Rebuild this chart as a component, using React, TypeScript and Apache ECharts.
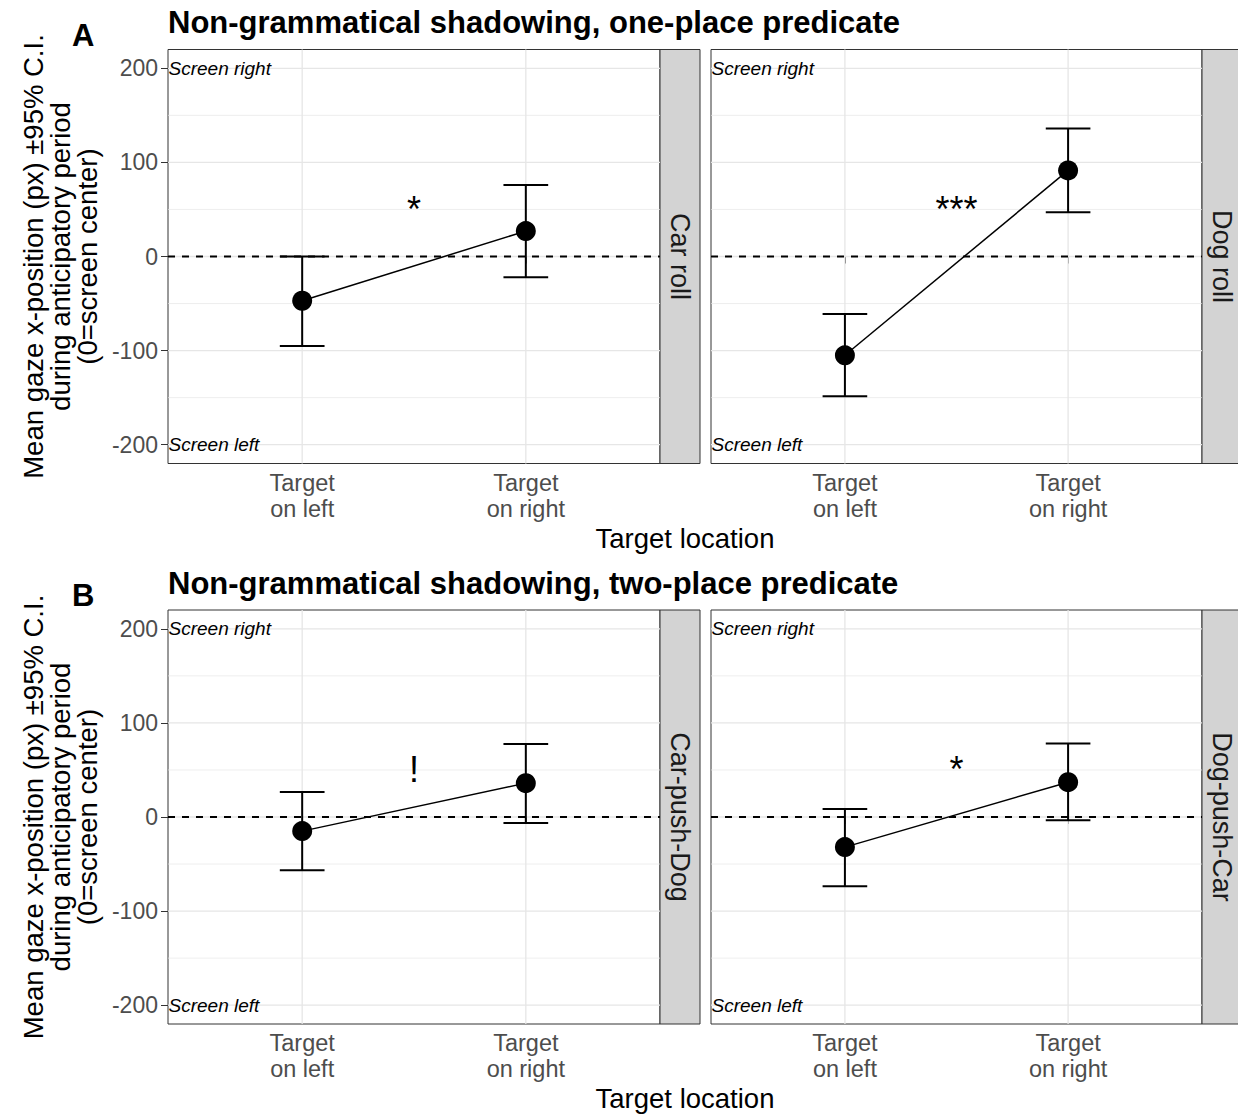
import React, { useEffect, useRef } from "react";
import * as echarts from "echarts";

// ---------- data ----------
const xCategories = ["Target\non left", "Target\non right"];
const panelTitles = [
  "Non-grammatical shadowing, one-place predicate",
  "Non-grammatical shadowing, two-place predicate",
];
const panelLetters = ["A", "B"];
const stripLabels = ["Car roll", "Dog roll", "Car-push-Dog", "Dog-push-Car"];
const meanValues = [
  [-47, 27],
  [-105, 91.5],
  [-15, 36],
  [-32, 37],
];
const lowerCI = [
  [-95, -22],
  [-148.5, 47],
  [-56.5, -6.5],
  [-73.5, -3.5],
];
const upperCI = [
  [0, 76],
  [-61, 136],
  [26.5, 77.5],
  [8.5, 78],
];
const sigLabels = ["*", "***", "!", "*"];
const sigX = 1.5;
const sigY = 50;
const yTicks = [-200, -100, 0, 100, 200];
const yMinorTicks = [-150, -50, 50, 150];
const xTicks = [1, 2];
const cornerLabels = ["Screen right", "Screen left"];
const cornerValues = [200, -200];
const yTitle = "Mean gaze x-position (px) ±95% C.I.\nduring anticipatory period\n(0=screen center)";
const xTitle = "Target location";

// ---------- layout ----------
const FONT = "'Liberation Sans', Arial, Helvetica, sans-serif";
const X_MIN = 0.4;
const X_MAX = 2.6;
const Y_MIN = -220;
const Y_MAX = 220;
const gridLeft = [168, 711];
const gridWidth = [492, 491];
const gridTop = [49.5, 610];
const gridHeight = 414;
const stripW = 40;
const rowOffset = gridTop[1] - gridTop[0];

export default function App() {
  const ref = useRef<HTMLDivElement>(null);

  useEffect(() => {
    if (!ref.current) return;
    const chart = echarts.init(ref.current, undefined, { renderer: "svg" });
    const panels = [0, 1, 2, 3].map((i) => ({ row: Math.floor(i / 2), col: i % 2 }));

    const grids = panels.map((p) => ({
      left: gridLeft[p.col],
      top: gridTop[p.row],
      width: gridWidth[p.col],
      height: gridHeight,
      show: true,
      borderColor: "#333333",
      borderWidth: 1,
      backgroundColor: "#ffffff",
      containLabel: false,
    }));

    const xAxes = panels.map((p, i) => ({
      type: "value",
      gridIndex: i,
      min: X_MIN,
      max: X_MAX,
      splitLine: { show: false },
      axisLine: { show: false },
      axisTick: {
        show: true,
        customValues: xTicks,
        length: 7,
        lineStyle: { color: "#333333", width: 1 },
      },
      axisLabel: {
        show: true,
        customValues: xTicks,
        formatter: (v: number) => xCategories[Math.round(v) - 1] ?? "",
        fontSize: 23.5,
        lineHeight: 26,
        color: "#4d4d4d",
        margin: 6,
        fontFamily: FONT,
      },
    }));

    const yAxes = panels.map((p, i) => ({
      type: "value",
      gridIndex: i,
      min: Y_MIN,
      max: Y_MAX,
      splitLine: { show: false },
      axisLine: { show: false },
      axisTick: {
        show: p.col === 0,
        customValues: yTicks,
        length: 7,
        lineStyle: { color: "#333333", width: 1 },
      },
      axisLabel: {
        show: p.col === 0,
        customValues: yTicks,
        fontSize: 23,
        color: "#4d4d4d",
        margin: 10,
        fontFamily: FONT,
      },
    }));

    const lineRender = (dash: number[] | null, color: string) => (params: any, api: any) => {
      const a = api.coord([api.value(0), api.value(1)]);
      const b = api.coord([api.value(2), api.value(3)]);
      return {
        type: "line",
        shape: { x1: a[0], y1: a[1], x2: b[0], y2: b[1] },
        style: { stroke: color, lineWidth: api.value(4), lineDash: dash || undefined },
        silent: true,
      };
    };

    const series: any[] = [];
    panels.forEach((p, i) => {
      const gridData = [
        ...yTicks.map((v) => [X_MIN, v, X_MAX, v, 1.3]),
        ...yMinorTicks.map((v) => [X_MIN, v, X_MAX, v, 0.7]),
        ...xTicks.map((v) => [v, Y_MIN, v, Y_MAX, 1.3]),
      ];
      series.push({
        type: "custom",
        xAxisIndex: i,
        yAxisIndex: i,
        data: gridData,
        encode: { x: [0, 2], y: [1, 3] },
        renderItem: lineRender(null, "#e6e6e6"),
        clip: false,
        silent: true,
        z: 1,
      });
      series.push({
        type: "custom",
        xAxisIndex: i,
        yAxisIndex: i,
        data: [[X_MIN, 0, X_MAX, 0, 1.8]],
        encode: { x: [0, 2], y: [1, 3] },
        renderItem: lineRender([7, 7], "#000000"),
        clip: false,
        silent: true,
        z: 2,
      });
      // error bars
      series.push({
        type: "custom",
        xAxisIndex: i,
        yAxisIndex: i,
        data: xTicks.map((x, k) => [x, lowerCI[i][k], upperCI[i][k]]),
        encode: { x: 0, y: [1, 2] },
        renderItem: (params: any, api: any) => {
          const x = api.value(0);
          const lo = api.coord([x, api.value(1)]);
          const hi = api.coord([x, api.value(2)]);
          const half = api.size([0.1, 0])[0];
          const st = { stroke: "#000000", lineWidth: 2 };
          return {
            type: "group",
            children: [
              { type: "line", shape: { x1: lo[0], y1: lo[1], x2: hi[0], y2: hi[1] }, style: st },
              { type: "line", shape: { x1: hi[0] - half, y1: hi[1], x2: hi[0] + half, y2: hi[1] }, style: st },
              { type: "line", shape: { x1: lo[0] - half, y1: lo[1], x2: lo[0] + half, y2: lo[1] }, style: st },
            ],
          };
        },
        z: 3,
      });
      const pts = xTicks.map((x, k) => [x, meanValues[i][k]]);
      series.push({
        type: "line",
        xAxisIndex: i,
        yAxisIndex: i,
        data: pts,
        symbol: "none",
        lineStyle: { color: "#000000", width: 1.5, opacity: 1 },
        z: 4,
      });
      series.push({
        type: "scatter",
        xAxisIndex: i,
        yAxisIndex: i,
        data: pts,
        symbol: "circle",
        symbolSize: 20,
        itemStyle: { color: "#000000", opacity: 1 },
        z: 5,
      });
      series.push({
        type: "scatter",
        xAxisIndex: i,
        yAxisIndex: i,
        data: [[sigX, sigY]],
        symbol: "circle",
        symbolSize: 1,
        itemStyle: { color: "#ffffff", opacity: 0 },
        label: {
          show: true,
          position: "inside",
          formatter: sigLabels[i],
          fontSize: 36,
          color: "#000000",
          opacity: 1,
          fontFamily: FONT,
        },
        silent: true,
        z: 6,
      });
      series.push({
        type: "scatter",
        xAxisIndex: i,
        yAxisIndex: i,
        data: cornerValues.map((v, k) => ({ value: [X_MIN, v], name: cornerLabels[k] })),
        symbol: "circle",
        symbolSize: 1,
        itemStyle: { color: "#ffffff", opacity: 0 },
        clip: false,
        label: {
          show: true,
          position: "right",
          distance: 0,
          formatter: (d: any) => d.name,
          fontSize: 19,
          fontStyle: "italic",
          color: "#000000",
          opacity: 1,
          fontFamily: FONT,
        },
        silent: true,
        z: 6,
      });
    });

    const graphics: any[] = [];
    [0, 1].forEach((r) => {
      const off = r * rowOffset;
      graphics.push({
        type: "text",
        x: 168,
        y: 22.6 + off,
        style: {
          text: panelTitles[r],
          font: `bold 31px ${FONT}`,
          fill: "#000000",
          textAlign: "left",
          verticalAlign: "middle",
        },
      });
      graphics.push({
        type: "text",
        x: 72,
        y: 35 + off,
        style: {
          text: panelLetters[r],
          font: `bold 31px ${FONT}`,
          fill: "#000000",
          textAlign: "left",
          verticalAlign: "middle",
        },
      });
      graphics.push({
        type: "text",
        x: 685,
        y: 538 + off,
        style: {
          text: xTitle,
          font: `27.5px ${FONT}`,
          fill: "#000000",
          textAlign: "center",
          verticalAlign: "middle",
        },
      });
      graphics.push({
        type: "text",
        x: 60,
        y: gridTop[r] + gridHeight / 2,
        rotation: Math.PI / 2,
        style: {
          text: yTitle,
          font: `27.5px ${FONT}`,
          lineHeight: 27,
          fill: "#000000",
          textAlign: "center",
          verticalAlign: "middle",
        },
      });
      [0, 1].forEach((c) => {
        const sx = gridLeft[c] + gridWidth[c];
        graphics.push({
          type: "rect",
          shape: { x: sx, y: gridTop[r], width: stripW, height: gridHeight },
          style: { fill: "#d3d3d3", stroke: "#333333", lineWidth: 1 },
        });
        graphics.push({
          type: "text",
          x: sx + stripW / 2,
          y: gridTop[r] + gridHeight / 2,
          rotation: -Math.PI / 2,
          style: {
            text: stripLabels[r * 2 + c],
            font: `27px ${FONT}`,
            fill: "#1a1a1a",
            textAlign: "center",
            verticalAlign: "middle",
          },
        });
      });
    });

    chart.setOption({
      animation: false,
      backgroundColor: "#ffffff",
      textStyle: { fontFamily: FONT },
      grid: grids,
      xAxis: xAxes,
      yAxis: yAxes,
      series,
      graphic: { elements: graphics },
    });

    return () => chart.dispose();
  }, []);

  return (
    <div
      ref={ref}
      style={{ position: "absolute", left: 0, top: 0, width: 1238, height: 1114 }}
    />
  );
}
